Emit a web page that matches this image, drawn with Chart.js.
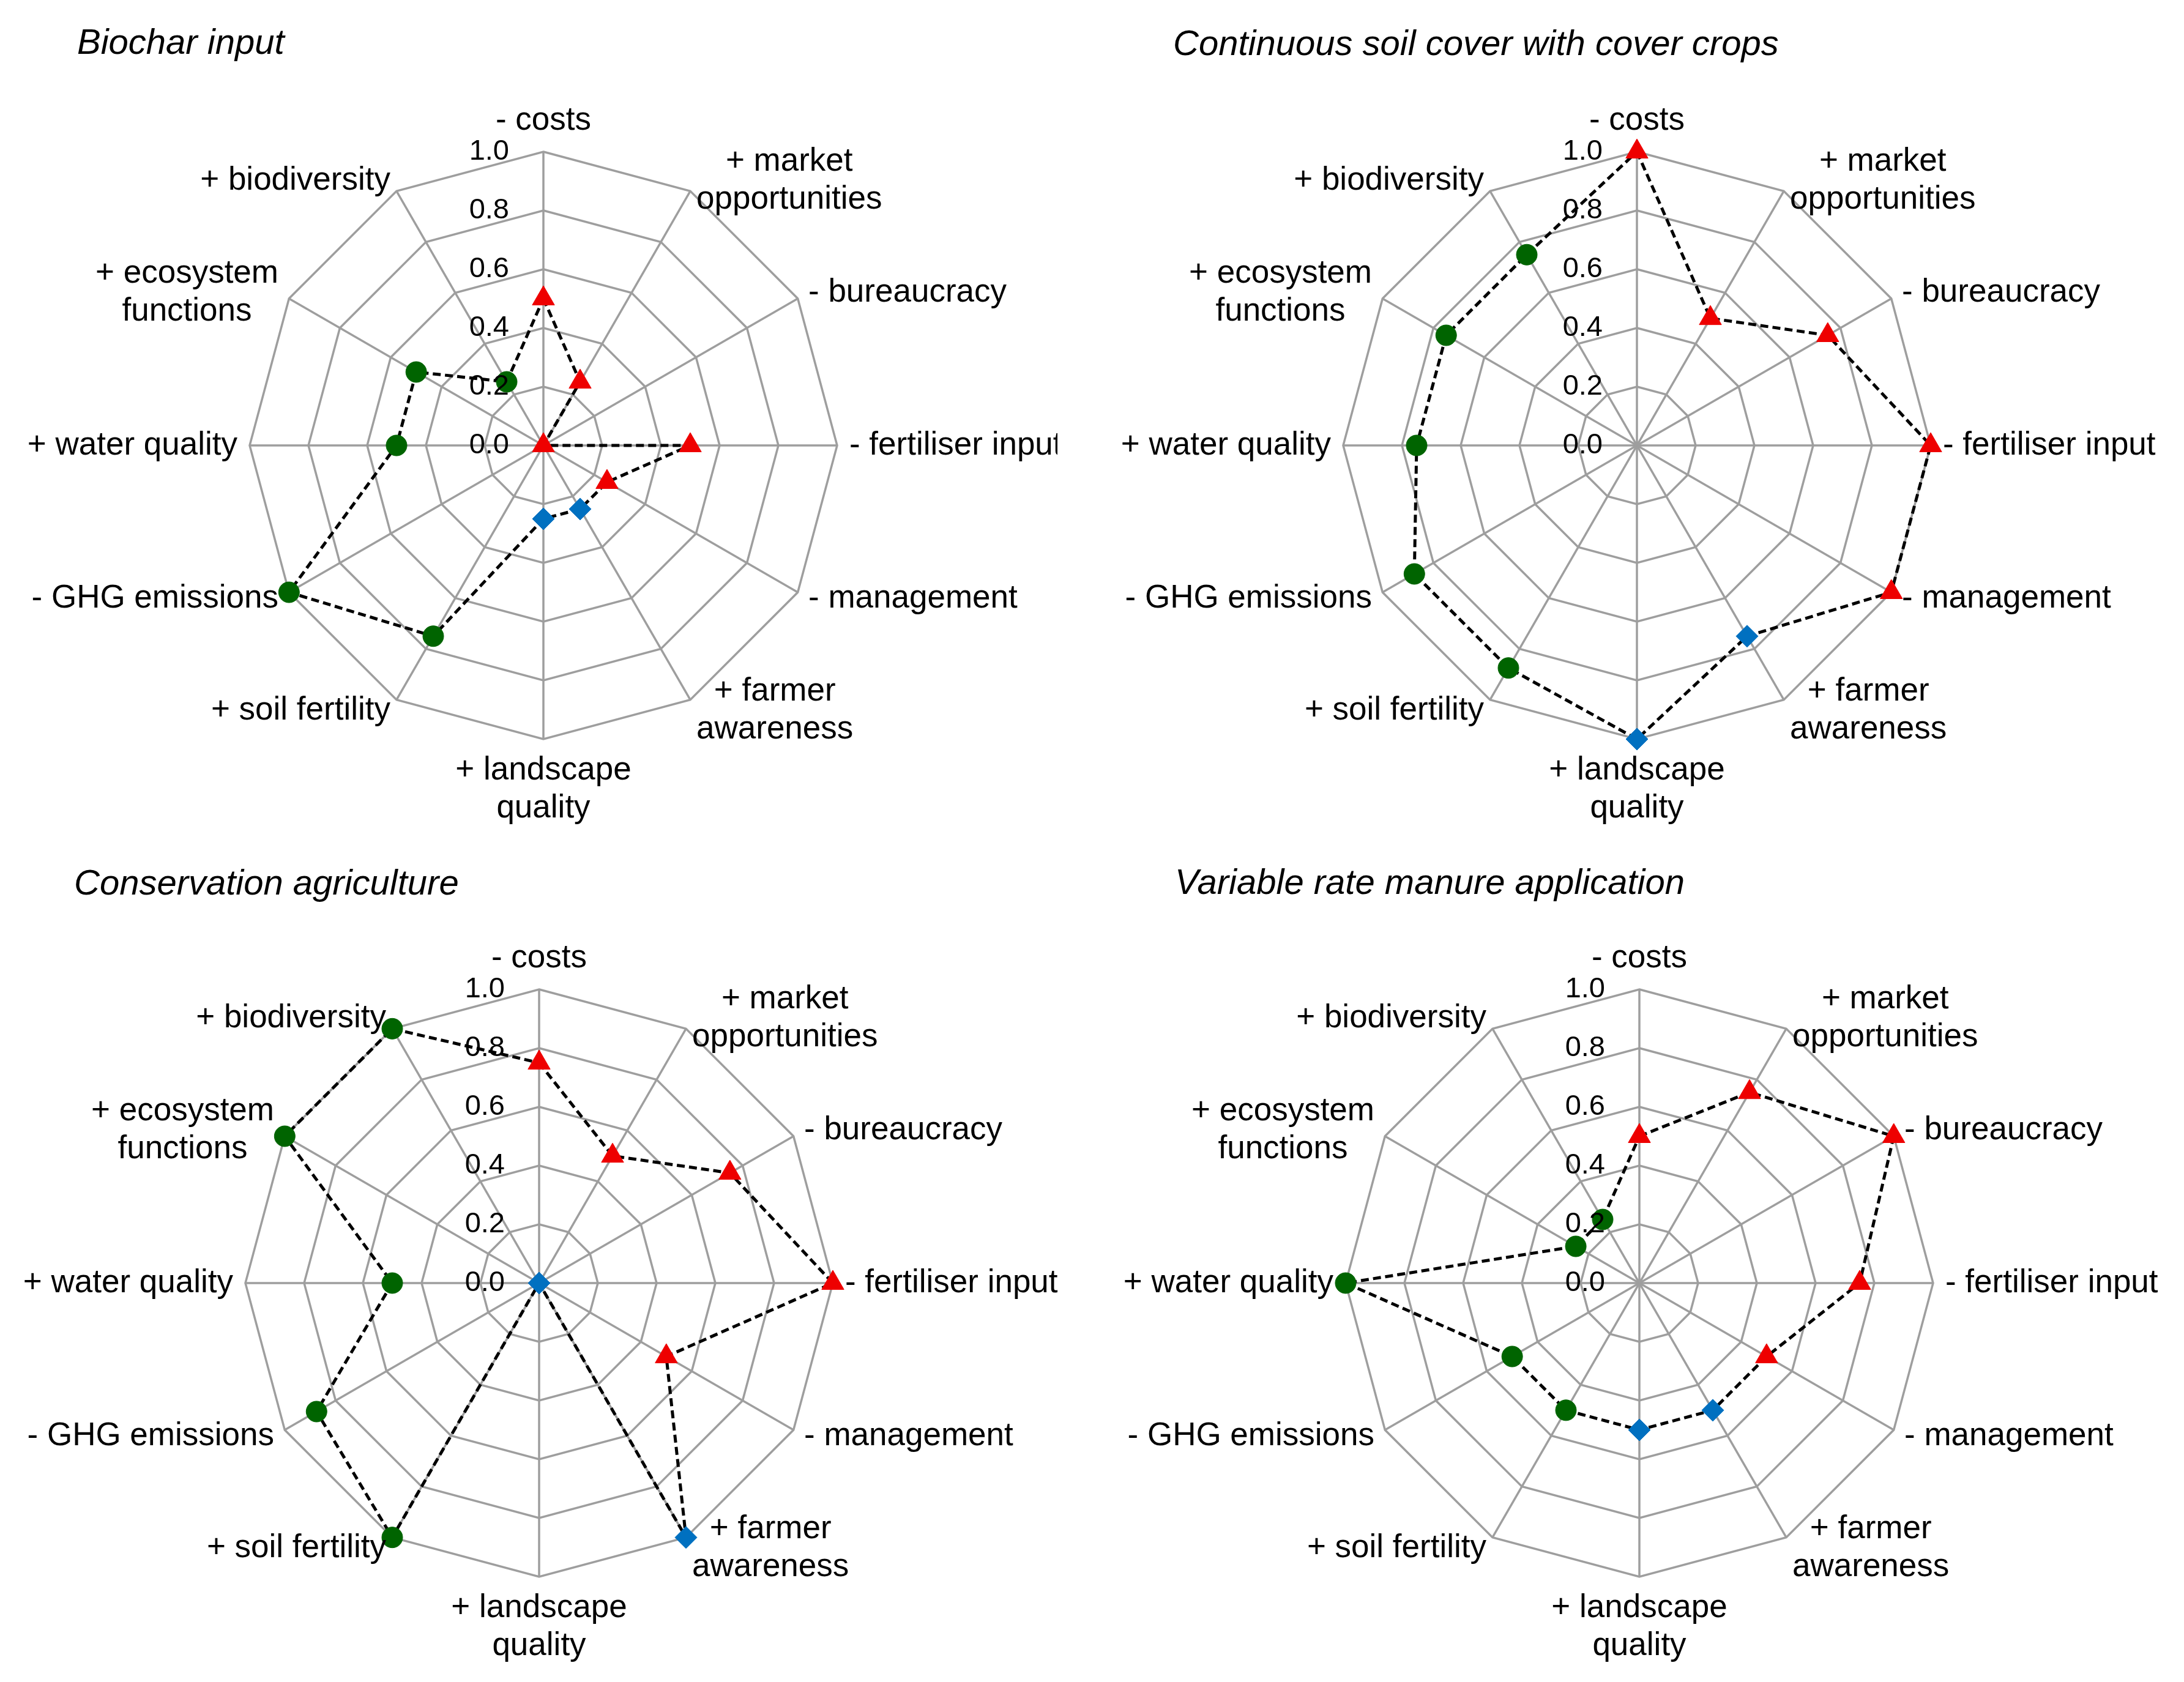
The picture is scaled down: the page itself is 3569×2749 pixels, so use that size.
<!DOCTYPE html>
<html>
<head>
<meta charset="utf-8">
<script src="https://cdn.jsdelivr.net/npm/chart.js@4.4.1/dist/chart.umd.min.js"></script>
<style>
  html, body { margin: 0; padding: 0; background: #fff; }
  body { width: 3569px; height: 2749px; position: relative; overflow: hidden; }
  canvas { position: absolute; }
</style>
</head>
<body>
<canvas id="biochar" width="1728" height="1374" style="left:0;top:0"></canvas>
<canvas id="cover" width="1784" height="1374" style="left:1785px;top:0"></canvas>
<canvas id="conservation" width="1784" height="1374" style="left:0;top:1375px"></canvas>
<canvas id="manure" width="1784" height="1374" style="left:1785px;top:1375px"></canvas>
<script>
// axes, clockwise from the top
const axisLabels = [
    ['- costs'], ['+ market', 'opportunities'], ['- bureaucracy'], ['- fertiliser input'],
    ['- management'], ['+ farmer', 'awareness'], ['+ landscape', 'quality'], ['+ soil fertility'],
    ['- GHG emissions'], ['+ water quality'], ['+ ecosystem', 'functions'], ['+ biodiversity']
];
const tickValues = [0, 0.2, 0.4, 0.6, 0.8, 1.0];

const chartTitles = [
    'Biochar input',
    'Continuous soil cover with cover crops',
    'Conservation agriculture',
    'Variable rate manure application'
];

const biocharInput = [0.5, 0.25, 0, 0.5, 0.25, 0.25, 0.25, 0.75, 1.0, 0.5, 0.5, 0.25];
const coverCrops = [1.0, 0.5, 0.75, 1.0, 1.0, 0.75, 1.0, 0.875, 0.875, 0.75, 0.75, 0.75];
const conservationAgriculture = [0.75, 0.5, 0.75, 1.0, 0.5, 1.0, 0, 1.0, 0.875, 0.5, 1.0, 1.0];
const variableRateManure = [0.5, 0.75, 1.0, 0.75, 0.5, 0.5, 0.5, 0.5, 0.5, 1.0, 0.25, 0.25];

const FONT = '"Liberation Sans", Arial, Helvetica, sans-serif';
const GRID = '#9e9e9e';

// marker look per axis: economic (red), social (blue), environmental (green)
function markerFor(i) {
    if (i <= 4) return { style: 'triangle', color: '#ee0000', radius: 21 };
    if (i <= 6) return { style: 'rectRot', color: '#0070c0', radius: 18 };
    return { style: 'circle', color: '#006400', radius: 17 };
}

const radarText = {
    id: 'radarText',
    afterDatasetsDraw(chart, args, opts) {
        const scale = chart.scales.r;
        const ctx = chart.ctx;
        ctx.save();
        ctx.fillStyle = '#000';

        // value labels, left of the vertical axis
        ctx.font = '47px ' + FONT;
        ctx.textAlign = 'right';
        ctx.textBaseline = 'middle';
        tickValues.forEach(v => {
            const y = scale.yCenter - scale.getDistanceFromCenterForValue(v);
            ctx.fillText(v.toFixed(1), scale.xCenter - 56, y);
        });

        // axis names
        ctx.font = '53px ' + FONT;
        ctx.textAlign = 'center';
        const lh = 62;
        axisLabels.forEach((lines, i) => {
            const p = scale.getPointPosition(i, scale.drawingArea + 20);
            const a = scale.getIndexAngle(i);
            const s = Math.sin(a), c = Math.cos(a);
            const w = Math.max(...lines.map(t => ctx.measureText(t).width));
            const h = lines.length * lh;
            let cx = p.x;
            if (s > 0.01) cx = p.x + w / 2;
            else if (s < -0.01) cx = p.x - w / 2;
            let top = p.y - h / 2;
            if (c > 0.99) top = p.y - h;
            else if (c < -0.99) top = p.y;
            lines.forEach((t, k) => ctx.fillText(t, cx, top + lh / 2 + k * lh));
        });

        // panel title
        ctx.font = 'italic 58px ' + FONT;
        ctx.textAlign = 'left';
        ctx.textBaseline = 'alphabetic';
        ctx.fillText(opts.text, opts.x, opts.y);
        ctx.restore();
    }
};

function renderRadar(canvasId, values, title, layout) {
    const ctx = document.getElementById(canvasId).getContext('2d');
    const markers = values.map((v, i) => markerFor(i));

    new Chart(ctx, {
        type: 'radar',
        data: {
            labels: axisLabels,
            datasets: [{
                data: values,
                fill: false,
                borderColor: '#000',
                borderWidth: 5,
                borderDash: [13, 7],
                tension: 0,
                clip: false,
                pointStyle: markers.map(m => m.style),
                pointRadius: markers.map(m => m.radius),
                pointBackgroundColor: markers.map(m => m.color),
                pointBorderColor: markers.map(m => m.color),
                pointBorderWidth: 1
            }]
        },
        options: {
            responsive: false,
            animation: false,
            devicePixelRatio: 1,
            layout: { padding: layout.padding },
            scales: {
                r: {
                    min: 0,
                    max: 1,
                    ticks: { stepSize: 0.2, display: false },
                    grid: { color: GRID, lineWidth: 3.5 },
                    angleLines: { color: GRID, lineWidth: 3.5 },
                    pointLabels: { display: false }
                }
            },
            plugins: {
                legend: { display: false },
                tooltip: { enabled: false },
                radarText: { text: title, x: layout.titleX, y: layout.titleY }
            }
        },
        plugins: [radarText]
    });
}

renderRadar('biochar', biocharInput, chartTitles[0],
    { padding: { left: 408, right: 360, top: 248, bottom: 166 }, titleX: 126, titleY: 88 });
renderRadar('cover', coverCrops, chartTitles[1],
    { padding: { left: 410, right: 414, top: 248, bottom: 166 }, titleX: 132, titleY: 90 });
renderRadar('conservation', conservationAgriculture, chartTitles[2],
    { padding: { left: 401, right: 423, top: 242, bottom: 172 }, titleX: 121, titleY: 87 });
renderRadar('manure', variableRateManure, chartTitles[3],
    { padding: { left: 414, right: 410, top: 242, bottom: 172 }, titleX: 135, titleY: 86 });
</script>
</body>
</html>
